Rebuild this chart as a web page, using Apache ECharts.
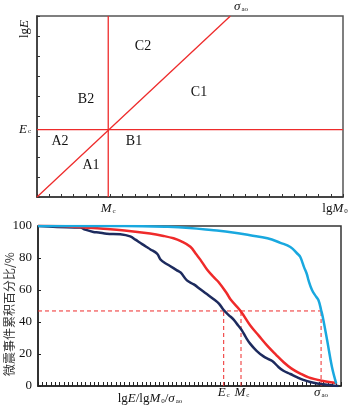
<!DOCTYPE html>
<html>
<head>
<meta charset="utf-8">
<script src="https://cdn.jsdelivr.net/npm/echarts@6/dist/echarts.min.js"></script>
<style>
html,body{margin:0;padding:0;background:#fff}
#main{width:354px;height:409px}
</style>
</head>
<body>
<div id="main"></div>
<script>
// 上图：分区示意
var topXMax = 25, topYMax = 9;
var mcX = 5.82;          // M_c 竖线
var ecY = 3.35;          // E_c 横线
var diagonal = [[0, 0], [15.8, 9]];   // σ_ao 斜线

// 下图：累积百分比曲线 (x: 0~70)
var energyCurve = [[0,100],[4.4,99.4],[9.8,99],[10.9,97.7],[12.8,96.3],[14,96],[15.9,95.2],[19,94.8],[21.3,93.5],[22.5,91.5],[23.6,89.5],[25,87],[25.9,85.5],[27.5,82.7],[28.3,79],[29,77.5],[30.5,75],[32.1,72.3],[33,70.8],[34.4,66],[36,63.5],[37.5,60.5],[39,57.5],[40.6,54.2],[41.8,51.5],[42.9,47.5],[44,44.5],[45.2,41.5],[46.2,38],[47.1,34.8],[48,30.5],[49,26.5],[50.5,22],[52.1,18.5],[53.5,16.5],[54.4,15],[55.5,12],[56.7,9.5],[58.3,7.5],[59.8,5.6],[61.3,3.8],[62.9,2.5],[64.5,1.6],[66,1.1],[67.7,0.5],[69.4,0]];
var momentCurve = [[0,100.5],[8,99.6],[14.4,98.4],[20,97.2],[25.9,95.3],[29,93.8],[31.3,92.3],[33,90.5],[35.2,87],[36.5,82.5],[37.5,79],[39,73],[40.6,68],[41.7,65],[43.6,58],[44.5,54],[46.8,46.9],[49,38],[51,31.5],[52.9,25.4],[55,19.5],[56.7,15],[58.5,11],[60.6,7.8],[62.5,5.4],[64.4,4],[66.5,2.8],[69,1.9]];
var stressCurve = [[0,100],[20,100],[30,99.5],[35,98.8],[40,97.5],[45,96],[49,94.2],[53,92.3],[56,89.5],[58.3,86.9],[60,82.5],[60.6,80.6],[61.5,74],[62.1,70],[62.5,66],[63.3,60],[64.2,56],[64.8,53.6],[65.4,47.5],[65.8,43],[66.8,28.6],[67.9,12],[68.9,1.5]];
var level = 46.9;                       // 横向虚线
var cutEc = 42.9, cutMc = 46.9, cutSigma = 65.4;
var yTicks = [0, 20, 40, 60, 80, 100];

var serif = '"Liberation Serif","DejaVu Serif",serif';
var red = '#ee2b2b';
var rich = {
	r: {fontFamily: serif, fontSize: 13, color: '#111'},
	i: {fontFamily: serif, fontSize: 13, fontStyle: 'italic', color: '#111'},
	s: {fontFamily: serif, fontSize: 7, color: '#111', padding: [4, 0, 0, 1]}
};
function txt(x, y, s, size, rot){
	return {
		type: 'text', x: x, y: y, rotation: rot || 0,
		style: {text: s, fontFamily: serif, fontSize: size || 14, fill: '#111',
			align: 'center', verticalAlign: 'middle', rich: rich}
	};
}
function seg(pts, xi, yi, dashed, w){
	return {
		type: 'line', xAxisIndex: xi, yAxisIndex: yi, data: pts, symbol: 'none',
		silent: true,
		lineStyle: {color: red, width: w || 1.3, type: dashed ? [4, 3] : 'solid'}
	};
}
function curve(pts, color){
	return {
		type: 'line', xAxisIndex: 1, yAxisIndex: 1, data: pts, symbol: 'none',
		smooth: 0.4, lineStyle: {color: color, width: 2.5}
	};
}

var chart = echarts.init(document.getElementById('main'));
chart.setOption({
	animation: false,
	backgroundColor: '#fff',
	grid: [
		{left: 37, right: 11, top: 16, height: 181, show: true, borderColor: '#555', borderWidth: 1.5},
		{left: 38, right: 13, top: 226, height: 160, show: true, borderColor: '#333', borderWidth: 1.5}
	],
	xAxis: [
		{gridIndex: 0, type: 'value', min: 0, max: topXMax, interval: 1,
			axisLine: {lineStyle: {color: '#333', width: 1.5}},
			axisTick: {inside: true, length: 3, lineStyle: {color: '#333'}},
			axisLabel: {show: false}, splitLine: {show: false}},
		{gridIndex: 1, type: 'value', min: 0, max: 70, interval: 1,
			axisLine: {lineStyle: {color: '#222', width: 1.5}},
			axisTick: {inside: true, length: 4, lineStyle: {color: '#222'}},
			axisLabel: {show: false}, splitLine: {show: false}}
	],
	yAxis: [
		{gridIndex: 0, type: 'value', min: 0, max: topYMax, interval: 1,
			axisLine: {lineStyle: {color: '#333', width: 1.5}},
			axisTick: {inside: true, length: 3, lineStyle: {color: '#333'}},
			axisLabel: {show: false}, splitLine: {show: false}},
		{gridIndex: 1, type: 'value', min: 0, max: 100, interval: 20,
			axisLine: {lineStyle: {color: '#222', width: 1.5}},
			axisTick: {inside: true, length: 3, lineStyle: {color: '#222'}},
			axisLabel: {fontFamily: serif, fontSize: 13, color: '#111', margin: 6,
				formatter: function(v){ return yTicks.indexOf(v) > -1 ? v : ''; }},
			splitLine: {show: false}}
	],
	series: [
		seg([[mcX, 0], [mcX, topYMax]], 0, 0),
		seg([[0, ecY], [topXMax, ecY]], 0, 0),
		seg(diagonal, 0, 0),
		seg([[0, level], [cutSigma, level]], 1, 1, true, 1),
		seg([[cutEc, 0], [cutEc, level]], 1, 1, true, 1),
		seg([[cutMc, 0], [cutMc, level]], 1, 1, true, 1),
		seg([[cutSigma, 0], [cutSigma, level]], 1, 1, true, 1),
		curve(energyCurve, '#1d2b5e'),
		curve(momentCurve, '#ef2a2a'),
		curve(stressCurve, '#19a8df')
	]
});

// 标注文字
var px = function(xi, v){ return chart.convertToPixel({xAxisIndex: xi}, v); };
var py = function(yi, v){ return chart.convertToPixel({yAxisIndex: yi}, v); };
var graphics = [
	txt(143, 46, 'C2'), txt(86, 99, 'B2'), txt(199, 92, 'C1'),
	txt(60, 141, 'A2'), txt(134, 141, 'B1'), txt(91, 165, 'A1'),
	txt(241, 7, '{i|σ}{s|ao}'),
	txt(25, 29, '{r|lg}{i|E}', 13, Math.PI / 2),
	txt(25, py(0, ecY), '{i|E}{s|c}'),
	txt(px(0, mcX), 209, '{i|M}{s|c}'),
	txt(335, 209, '{r|lg}{i|M}{s|0}'),
	txt(px(1, cutEc), 393, '{i|E}{s|c}'),
	txt(px(1, cutMc) + 1, 393, '{i|M}{s|c}'),
	txt(px(1, cutSigma), 393, '{i|σ}{s|ao}'),
	txt(150, 399, '{r|lg}{i|E}{r|/lg}{i|M}{s|0}{r|/}{i|σ}{s|ao}'),
	{type: 'text', x: 9, y: 314, rotation: Math.PI / 2,
		style: {text: '微震事件累积百分比/%', fontFamily: '"Noto Sans CJK SC",sans-serif',
			fontSize: 12, fill: '#333', align: 'center', verticalAlign: 'middle'}}
];
chart.setOption({graphic: graphics});
</script>
</body>
</html>
